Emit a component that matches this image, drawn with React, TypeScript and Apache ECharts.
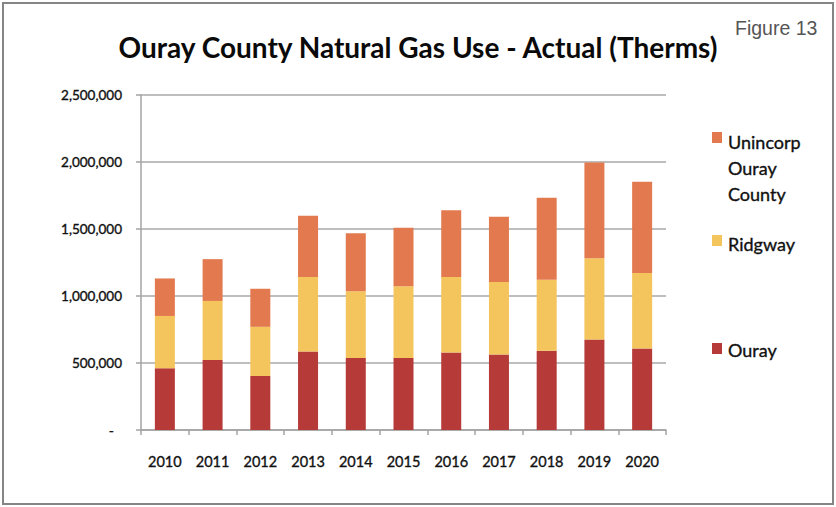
import React, { useEffect, useRef } from "react";
import * as echarts from "echarts";

// Annual natural gas use by area, in therms
const years = ["2010", "2011", "2012", "2013", "2014", "2015", "2016", "2017", "2018", "2019", "2020"];
const ouray = [460000, 522000, 403000, 586000, 537000, 537000, 579000, 564000, 591000, 675000, 608000];
const ridgway = [391000, 441000, 367000, 555000, 498000, 535000, 562000, 540000, 530000, 607000, 563000];
const unincorp = [280000, 312000, 284000, 458000, 434000, 438000, 498000, 488000, 612000, 714000, 681000];

const seriesNames = ["Ouray", "Ridgway", "Unincorp Ouray County"];
const legendLabels = ["Ouray", "Ridgway", "Unincorp\nOuray\nCounty"];
const colors = ["#b63a37", "#f3c55c", "#e37a4f"];

const titleText = "Ouray County Natural Gas Use - Actual (Therms)";
const figureText = "Figure 13";

const FONT = "Lato, 'Open Sans', sans-serif";
const AXIS_GREY = "#a3a3a3";
const INK = "#111111";

export default function App() {
  const ref = useRef<HTMLDivElement>(null);

  useEffect(() => {
    document.body.style.margin = "0";
    if (!ref.current) return;
    const chart = echarts.init(ref.current, null, { renderer: "svg" });

    const values = [ouray, ridgway, unincorp];
    // legend rows: swatch top and text anchor, listed top to bottom
    const legendRows = [
      { idx: 2, swatchY: 132, textY: 129 },
      { idx: 1, swatchY: 235, textY: 244 },
      { idx: 0, swatchY: 343, textY: 350 },
    ];

    const legendGraphics: any[] = [];
    legendRows.forEach((row) => {
      legendGraphics.push({
        type: "rect",
        shape: { x: 712, y: row.swatchY, width: 10, height: 11 },
        style: { fill: colors[row.idx] },
      });
      const multi = legendLabels[row.idx].includes("\n");
      legendGraphics.push({
        type: "text",
        x: 728,
        y: row.textY,
        style: {
          text: legendLabels[row.idx],
          font: `18px ${FONT}`,
          fill: INK,
          stroke: INK,
          lineWidth: 0.35,
          lineHeight: 26,
          verticalAlign: multi ? "top" : "middle",
        },
      });
    });

    const labelInk = { color: INK, textBorderColor: INK, textBorderWidth: 0.35 };

    chart.setOption({
      animation: false,
      backgroundColor: "#ffffff",
      grid: { left: 141, right: 170, top: 95, bottom: 77, containLabel: false },
      xAxis: {
        type: "category",
        data: years,
        axisLine: { lineStyle: { color: AXIS_GREY, width: 1.5 } },
        axisTick: { show: true, length: 5, alignWithLabel: false, lineStyle: { color: AXIS_GREY, width: 1.5 } },
        axisLabel: { fontFamily: FONT, fontSize: 14.5, margin: 24, ...labelInk },
      },
      yAxis: {
        type: "value",
        min: 0,
        max: 2500000,
        interval: 500000,
        axisLine: { show: true, lineStyle: { color: AXIS_GREY, width: 1.5 } },
        axisTick: { show: true, length: 5, lineStyle: { color: AXIS_GREY, width: 1.5 } },
        splitLine: { lineStyle: { color: "#a8a8a8", width: 1.5 } },
        axisLabel: {
          fontFamily: FONT,
          fontSize: 13.5,
          margin: 19,
          ...labelInk,
          formatter: (v: number) => (v === 0 ? "{d|-}" : v.toLocaleString("en-US")),
          rich: { d: { fontFamily: FONT, fontSize: 14, ...labelInk, padding: [0, 8, 0, 0] } },
        },
      },
      series: seriesNames.map((name, i) => ({
        name,
        type: "bar",
        stack: "total",
        barWidth: 20,
        data: values[i],
        itemStyle: { color: colors[i] },
      })),
      graphic: [
        {
          type: "rect",
          shape: { x: 3, y: 3, width: 830, height: 501 },
          style: { fill: "none", stroke: "#858585", lineWidth: 2 },
          silent: true,
        },
        {
          type: "text",
          x: 418,
          y: 47,
          style: {
            text: titleText,
            font: `bold 28px ${FONT}`,
            fill: "#0a0a0a",
            textAlign: "center",
            verticalAlign: "middle",
          },
        },
        {
          type: "text",
          x: 735,
          y: 28,
          style: {
            text: figureText,
            font: "19.5px 'Liberation Sans', Arial, sans-serif",
            fill: "#555555",
            verticalAlign: "middle",
          },
        },
        ...legendGraphics,
      ],
    });

    return () => chart.dispose();
  }, []);

  return <div ref={ref} style={{ width: 836, height: 507 }} />;
}
